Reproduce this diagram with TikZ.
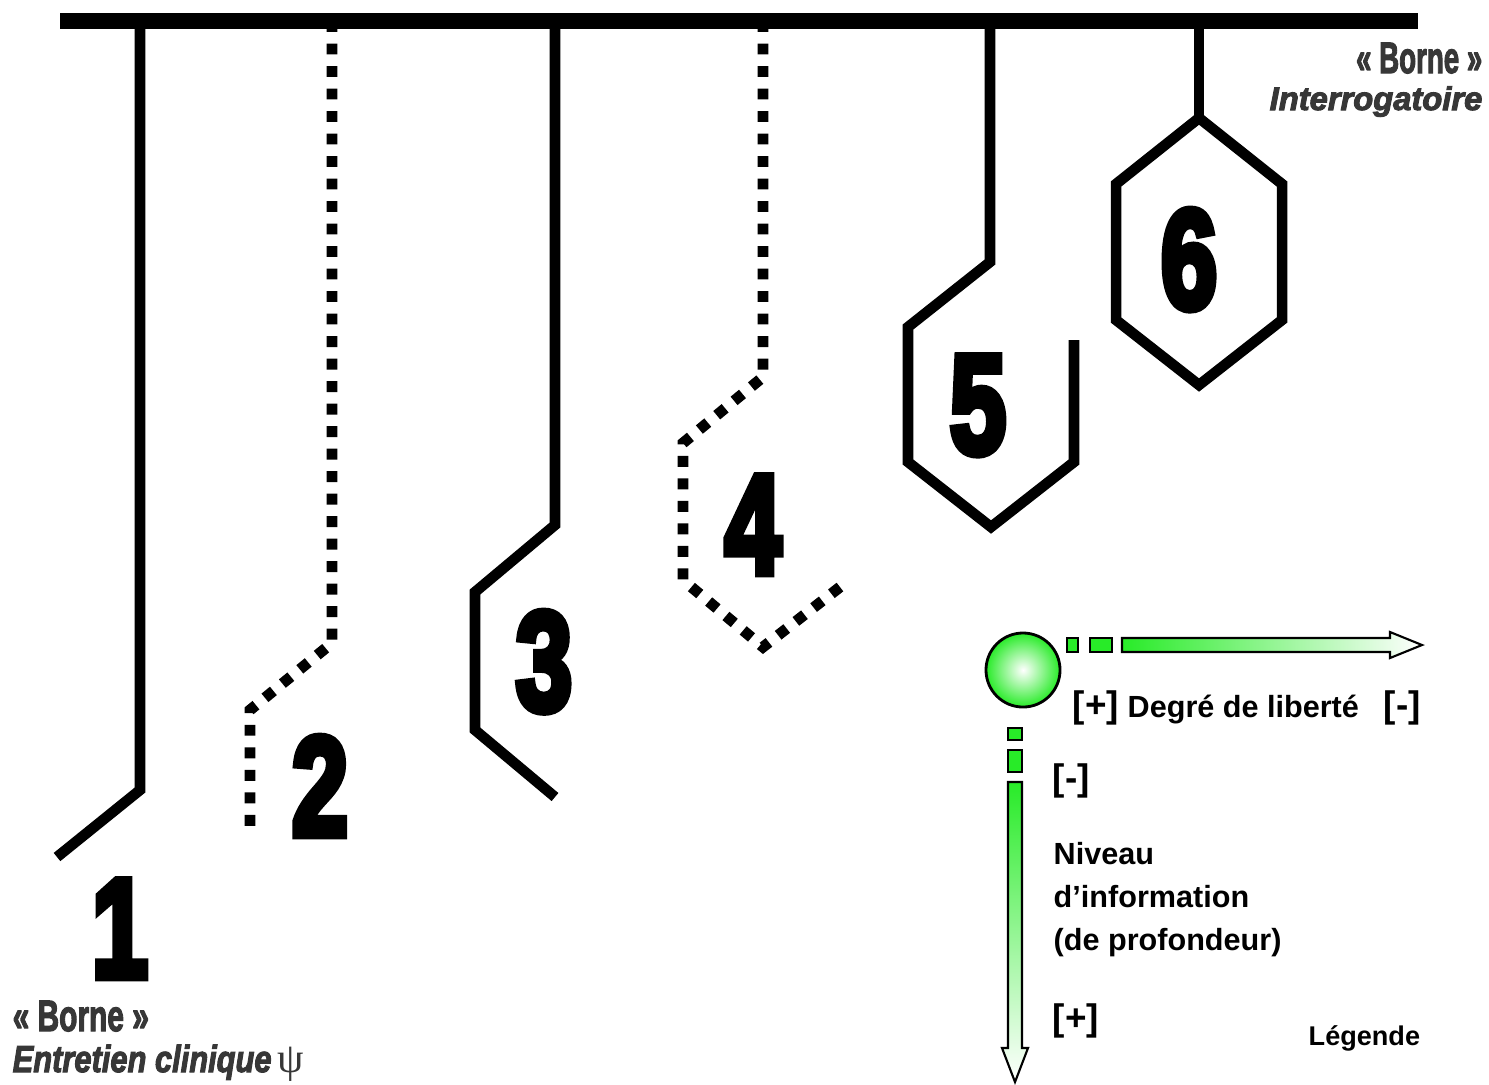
\documentclass[tikz,border=0pt]{standalone}
\usepackage{fontspec}
\setmainfont{Liberation Sans}
\newfontfamily\numfont[FakeBold=6]{Liberation Sans Bold}
\newfontfamily\titlefont[FakeBold=3]{Liberation Sans Bold}
\newfontfamily\titleitfont[FakeBold=3]{Liberation Sans Bold Italic}
\newfontfamily\psifont{Liberation Serif}
\usetikzlibrary{positioning}

\definecolor{legendgreen}{RGB}{40,235,40}
\definecolor{titlegray}{RGB}{55,55,55}

\newcommand{\serre}[2]{\scalebox{#1}[1]{#2}}

\tikzset{
  borne/.style={line width=3pt},
  borneint/.style={line width=3.1pt, dash pattern=on 3.1pt off 3.3pt},
  numero/.style={font=\numfont\fontsize{40pt}{40pt}\selectfont, inner sep=0pt, anchor=base},
  titre/.style={font=\titlefont\fontsize{12.5pt}{12pt}\selectfont, text=titlegray, inner sep=0pt},
  titreit/.style={font=\titleitfont\fontsize{9.3pt}{10pt}\selectfont, text=titlegray, inner sep=0pt},
  legende/.style={font=\bfseries\fontsize{8.7pt}{12.1pt}\selectfont, inner sep=0pt},
  crochet/.style={font=\bfseries\fontsize{10.5pt}{12pt}\selectfont, inner sep=0pt, anchor=base west},
  petitcarre/.style={draw=black, line width=0.6pt, fill=legendgreen},
}

\begin{document}
\begin{tikzpicture}[x=0.01cm, y=-0.01cm]
\useasboundingbox (0,0) rectangle (1489,1084);

% Barre horizontale
\draw[line width=4.5pt] (60,21) -- (1418,21);

% Bornes 1 a 6
\draw[borne] (140,21) -- (140,790) -- ++(-83,67);
\draw[borneint] (332,21) -- (332,643) -- ++(-82,67) -- (250,828);
\draw[borne] (555,21) -- (555,525) -- ++(-80,67) -- ++(0,138) -- ++(80,67);
\draw[borneint] (763,21) -- (763,377) -- ++(-80,66) -- ++(0,137) -- ++(80,67) -- ++(77,-60);
\draw[borne] (990,21) -- (990,262) -- ++(-82,65) -- ++(0,135) -- ++(83,65) -- ++(83,-65) -- ++(0,-122);
\draw[borne] (1199,21) -- (1199,118);
\draw[borne] (1199,118) -- ++(-83,66) -- ++(0,136) -- ++(83,65) -- ++(83,-65) -- ++(0,-136) -- cycle;

% Numeros
\node[numero] (n1) at (120,977) {\serre{0.72}{1}};
\node[numero] (n2) at (320,835) {\serre{0.72}{2}};
\node[numero] (n3) at (544,710) {\serre{0.72}{3}};
\node[numero] (n4) at (753,573) {\serre{0.72}{4}};
\node[numero] (n5) at (978,453) {\serre{0.72}{5}};
\node[numero] (n6) at (1189,308) {\serre{0.72}{6}};

% Titres des extremites
\node[titre, anchor=base east] (borneHaut) at (1483,73) {\serre{0.63}{« Borne »}};
\node[titreit, anchor=base east] (interro) at (1483,110) {Interrogatoire};
\node[titre, anchor=base west] (borneBas) at (12,1031) {\serre{0.68}{« Borne »}};
\node[titreit, anchor=base west, font=\titleitfont\fontsize{10.7pt}{11pt}\selectfont] (entretien) at (12,1072)
  {\serre{0.82}{Entretien clinique}\,{\psifont\fontsize{12pt}{12pt}\selectfont ψ}};

% Legende
\node[circle, draw=black, line width=0.8pt, minimum size=0.74cm, inner sep=0pt,
      inner color=white, outer color=legendgreen] (boule) at (1023,670) {};

\draw[petitcarre] (1067,638) rectangle (1078,652);
\draw[petitcarre] (1090,638) rectangle (1112,652);
\shade[left color=legendgreen, right color=white, draw=black, line width=0.6pt]
  (1122,638) -- (1390,638) -- (1390,632) -- (1422,645) -- (1390,658) -- (1390,652) -- (1122,652) -- cycle;

\draw[petitcarre] (1008,728) rectangle (1022,740);
\draw[petitcarre] (1008,750) rectangle (1022,772);
\shade[top color=legendgreen, bottom color=white, draw=black, line width=0.6pt]
  (1008,782) -- (1022,782) -- (1022,1048) -- (1028,1048) -- (1015,1082) -- (1002,1048) -- (1008,1048) -- cycle;

\node[crochet] (plusH) at (1072,717) {[+]};
\node[legende, anchor=base west] (degre) at (1127,717) {Degré de liberté};
\node[crochet] (moinsH) at (1383,717) {[-]};

\node[crochet] (moinsV) at (1052,790) {[-]};
\node[legende, anchor=north west, align=left] (niveau) at (1053,842) {Niveau\\d’information\\(de profondeur)};
\node[crochet] (plusV) at (1052,1030) {[+]};
\node[legende, anchor=base west, font=\bfseries\fontsize{7.7pt}{9pt}\selectfont] (legende) at (1308,1045) {Légende};
\end{tikzpicture}
\end{document}
